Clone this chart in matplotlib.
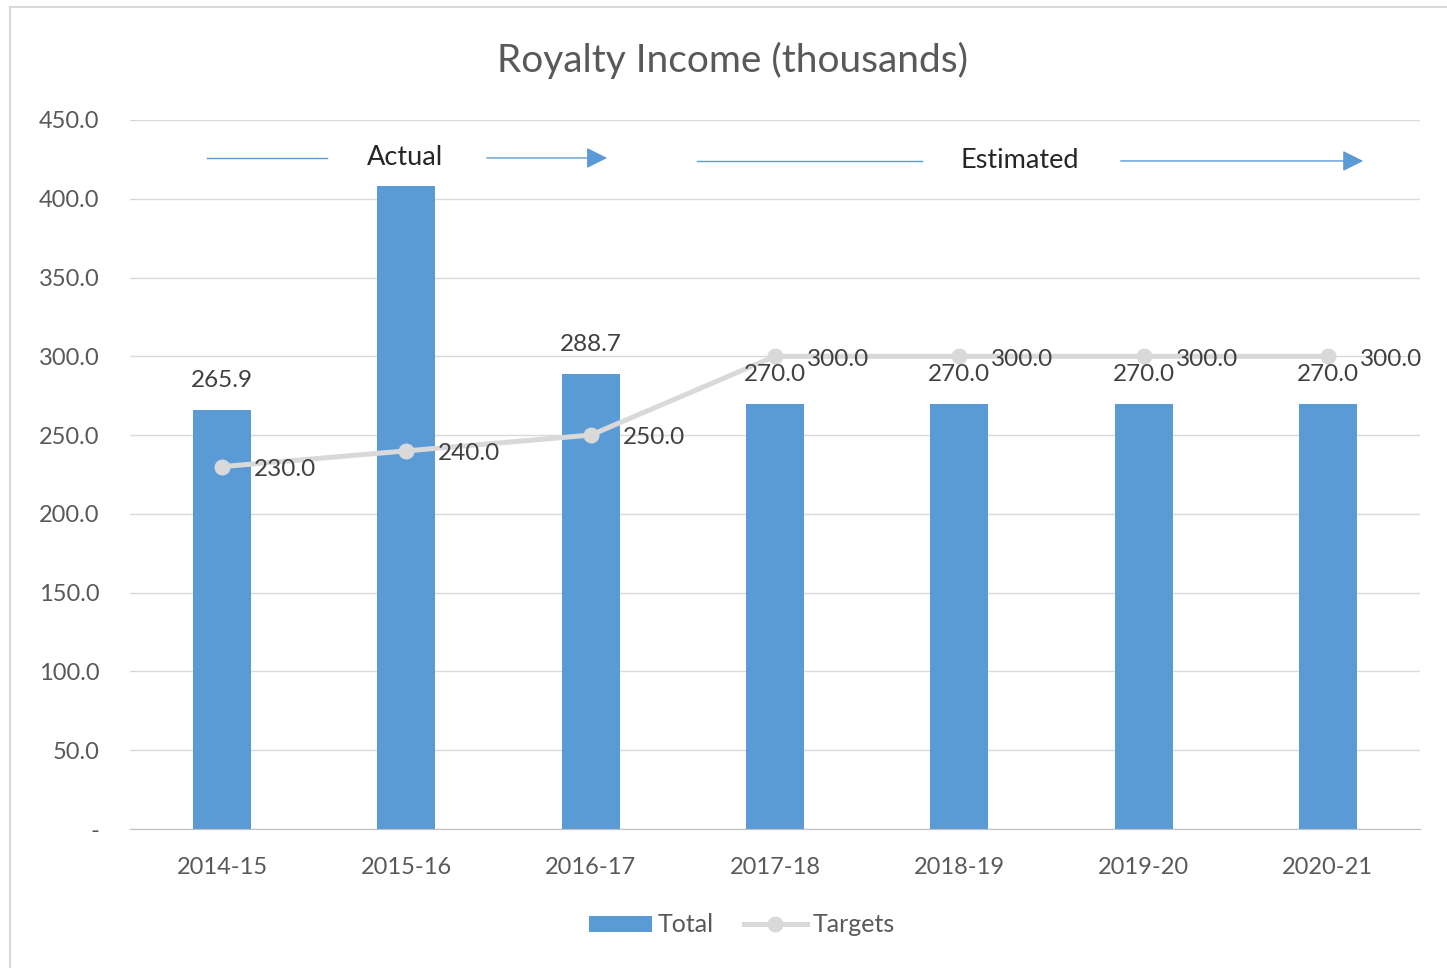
import matplotlib.pyplot as plt
from matplotlib.lines import Line2D
import numpy as np

years = ['2014-15', '2015-16', '2016-17', '2017-18', '2018-19', '2019-20', '2020-21']
total = [265.9, 408.1, 288.7, 270.0, 270.0, 270.0, 270.0]
targets = [230.0, 240.0, 250.0, 300.0, 300.0, 300.0, 300.0]
# the tall 2015-16 bar has no label in the original
total_labels = ['265.9', '', '288.7', '270.0', '270.0', '270.0', '270.0']
y_ticks = [0, 50, 100, 150, 200, 250, 300, 350, 400, 450]
y_tick_labels = ['-', '50.0', '100.0', '150.0', '200.0', '250.0', '300.0', '350.0', '400.0', '450.0']

blue = '#5B9BD5'
grey_line = '#D9D9D9'
text_grey = '#595959'

plt.rcParams['font.family'] = ['Lato', 'DejaVu Sans']

fig = plt.figure(figsize=(14.47, 9.68), dpi=100)
ax = fig.add_axes([130 / 1447, 1 - 829 / 968, 1290 / 1447, 709 / 968])

x = np.arange(len(years))
ax.bar(x, total, width=0.315, color=blue, label='Total', zorder=2)
ax.plot(x, targets, color=grey_line, lw=3.6, marker='o', markersize=10.5,
        label='Targets', zorder=3)

for xi, v, lab in zip(x, total, total_labels):
    if lab:
        ax.annotate(lab, (xi, v), xytext=(0, 21), textcoords='offset points',
                    ha='center', va='center', fontsize=17.5, color='#404040')
for xi, v in zip(x, targets):
    ax.annotate('%.1f' % v, (xi, v), xytext=(23, -2), textcoords='offset points',
                ha='left', va='center', fontsize=17.5, color='#404040', zorder=4)

ax.set_xlim(-0.5, len(years) - 0.5)
ax.set_ylim(0, 450)
ax.set_yticks(y_ticks)
ax.set_yticklabels(y_tick_labels)
ax.set_xticks(x)
ax.set_xticklabels(years)
ax.tick_params(axis='both', length=0, labelsize=17, colors=text_grey)
ax.tick_params(axis='y', pad=22)
ax.tick_params(axis='x', pad=20.5)
ax.grid(axis='y', color=grey_line, lw=1, zorder=0)
ax.set_axisbelow(True)
for s in ['left', 'right', 'top']:
    ax.spines[s].set_visible(False)
ax.spines['bottom'].set_color('#BFBFBF')

# Actual / Estimated markers
ax.plot([-0.082, 0.569], [425.9, 425.9], color=blue, lw=1)
ax.annotate('', xy=(2.104, 425.9), xytext=(1.421, 425.9),
            arrowprops=dict(arrowstyle='-|>', color=blue, lw=1, mutation_scale=32))
ax.text(0.992, 425.9, 'Actual', ha='center', va='center', fontsize=19.5, color='#262626')
ax.plot([2.577, 3.797], [424.0, 424.0], color=blue, lw=1)
ax.annotate('', xy=(6.207, 424.0), xytext=(4.861, 424.0),
            arrowprops=dict(arrowstyle='-|>', color=blue, lw=1, mutation_scale=32))
ax.text(4.329, 424.0, 'Estimated', ha='center', va='center', fontsize=19.5, color='#262626')

fig.text(0.506, 1 - 60 / 968, 'Royalty Income (thousands)', ha='center', va='center',
         fontsize=28, color=text_grey)

handles, labels = ax.get_legend_handles_labels()
order = [labels.index('Total'), labels.index('Targets')]
ax.legend([handles[i] for i in order], [labels[i] for i in order],
          loc='center', bbox_to_anchor=(0.513, 1 - 925 / 968), bbox_transform=fig.transFigure,
          ncol=2, frameon=False, fontsize=18, labelcolor=text_grey,
          handlelength=2.5, handleheight=0.6, handletextpad=0.25, columnspacing=1.2)

# outer chart frame
fig.add_artist(Line2D([10 / 1447, 10 / 1447], [0, 1 - 7 / 968], color=grey_line, lw=1.5))
fig.add_artist(Line2D([10 / 1447, 1], [1 - 7 / 968, 1 - 7 / 968], color=grey_line, lw=1.5))

fig.savefig('out.png', dpi=100)
